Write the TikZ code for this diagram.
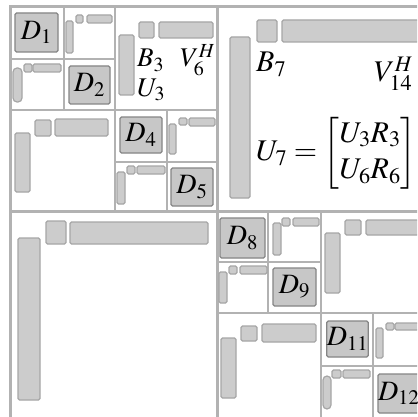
\documentclass[tikz,border=0pt]{standalone}
\usepackage{amsmath}
\usepackage{mathptmx}
\usepackage{tikz}
\usetikzlibrary{positioning}
\definecolor{linegray}{gray}{0.70}
\definecolor{barfill}{gray}{0.80}
\definecolor{baredge}{gray}{0.65}
\definecolor{dfill}{gray}{0.78}
\definecolor{dedge}{gray}{0.52}
\begin{document}
\begin{tikzpicture}[x=1pt,y=-1pt,
  sep/.style={draw=linegray,line width=2pt},
  bigsep/.style={draw=linegray,line width=3pt},
  bar/.style={draw=baredge,fill=barfill,line width=1.2pt,rounded corners=1.5pt},
  dbox/.style={draw=dedge,fill=dfill,line width=1.3pt,rounded corners=1.5pt,inner sep=0pt,font=\fontsize{28}{33}\selectfont},
  lbl/.style={anchor=base west,inner sep=0pt,font=\fontsize{27}{32}\selectfont},
  biglbl/.style={anchor=base west,inner sep=0pt,font=\fontsize{30}{36}\selectfont}]
\clip (0,0) rectangle (417,417);
\fill[white] (0,0) rectangle (417,417);
\draw[bigsep] (10,420) -- (10,7) -- (420,7);
\draw[bigsep] (217,7) -- (217,420);
\draw[bigsep] (10,211) -- (420,211);
\draw[sep] (115,7) -- (115,211);
\draw[sep] (10,110) -- (217,110);
\draw[sep] (64,7) -- (64,110);
\draw[sep] (10,59) -- (115,59);
\draw[sep] (167,110) -- (167,211);
\draw[sep] (115,162) -- (217,162);
\draw[sep] (321,211) -- (321,420);
\draw[sep] (217,313) -- (420,313);
\draw[sep] (268,211) -- (268,313);
\draw[sep] (217,262) -- (321,262);
\draw[sep] (373,313) -- (373,420);
\draw[sep] (321,366) -- (420,366);
\node[dbox,minimum width=43pt,minimum height=39pt] (D1) at (36.5,32.5) {$D_1$};
\draw[bar] (66,21) rectangle (73,53);
\draw[bar] (76,15) rectangle (83,23);
\draw[bar] (87,15) rectangle (112,23);
\draw[bar,rounded corners=4pt] (13,68) rectangle (22,102);
\draw[bar] (24,64) rectangle (32,72);
\draw[bar] (33,64) rectangle (61,72);
\node[dbox,minimum width=41pt,minimum height=38pt] (D2) at (89.5,85) {$D_2$};
\draw[bar] (119,35) rectangle (134,95);
\draw[bar] (139,22) rectangle (154,38);
\draw[bar] (159,22) rectangle (213,38);
\node[lbl] (B3) at (137,67) {$B_3$};
\node[lbl] (U3) at (137,96) {$U_3$};
\node[lbl] (V6) at (180,67) {$V_6^H$};
\draw[bar] (15,133) rectangle (30,192);
\draw[bar] (35,120) rectangle (51,136);
\draw[bar] (55,119) rectangle (108,136);
\node[dbox,minimum width=42pt,minimum height=36pt] (D4) at (141,135) {$D_4$};
\draw[bar] (169,124) rectangle (176,154);
\draw[bar] (179,118) rectangle (187,125);
\draw[bar] (189,118) rectangle (215,126);
\draw[bar] (117,172) rectangle (125,204);
\draw[bar] (127,166) rectangle (135,174);
\draw[bar] (137,166) rectangle (165,174);
\node[dbox,minimum width=42pt,minimum height=38pt] (D5) at (192,187) {$D_5$};
\draw[bar] (230,37) rectangle (250,198);
\draw[bar] (257,20) rectangle (277,42);
\draw[bar] (282,20) rectangle (425,42);
\node[biglbl] (B7) at (256,72) {$B_7$};
\node[biglbl] (V14) at (374,82) {$V_{14}^H$};
\node[biglbl,anchor=west] (U7) at (256,153) {$U_7=\begin{bmatrix}U_3R_3\\U_6R_6\end{bmatrix}$};
\draw[bar] (18,238) rectangle (40,400);
\draw[bar] (46,221) rectangle (66,244);
\draw[bar] (70,222) rectangle (208,244);
\node[dbox,minimum width=45pt,minimum height=40pt] (D8) at (242.5,238) {$D_8$};
\draw[bar] (273,223) rectangle (281,255);
\draw[bar] (282,218) rectangle (290,226);
\draw[bar] (293,218) rectangle (319,226);
\draw[bar] (219,272) rectangle (227,303);
\draw[bar] (229,266) rectangle (237,274);
\draw[bar] (240,266) rectangle (267,274);
\node[dbox,minimum width=43pt,minimum height=38pt] (D9) at (294.5,287) {$D_9$};
\draw[bar] (325,233) rectangle (340,293);
\draw[bar] (345,220) rectangle (361,235);
\draw[bar] (366,220) rectangle (425,235);
\draw[bar] (221,338) rectangle (236,398);
\draw[bar] (241,326) rectangle (257,341);
\draw[bar] (262,324) rectangle (316,342);
\node[dbox,minimum width=41pt,minimum height=36pt] (D11) at (347.5,339) {$D_{11}$};
\draw[bar] (376,328) rectangle (383,358);
\draw[bar] (386,323) rectangle (394,330);
\draw[bar] (395,323) rectangle (425,330);
\draw[bar,rounded corners=4pt] (323,376) rectangle (331,409);
\draw[bar] (332,370) rectangle (341,378);
\draw[bar] (343,370) rectangle (370,378);
\node[dbox,minimum width=42pt,minimum height=39pt,text width=42pt] (D12) at (399,393.5) {$D_{12}$};
\end{tikzpicture}
\end{document}
